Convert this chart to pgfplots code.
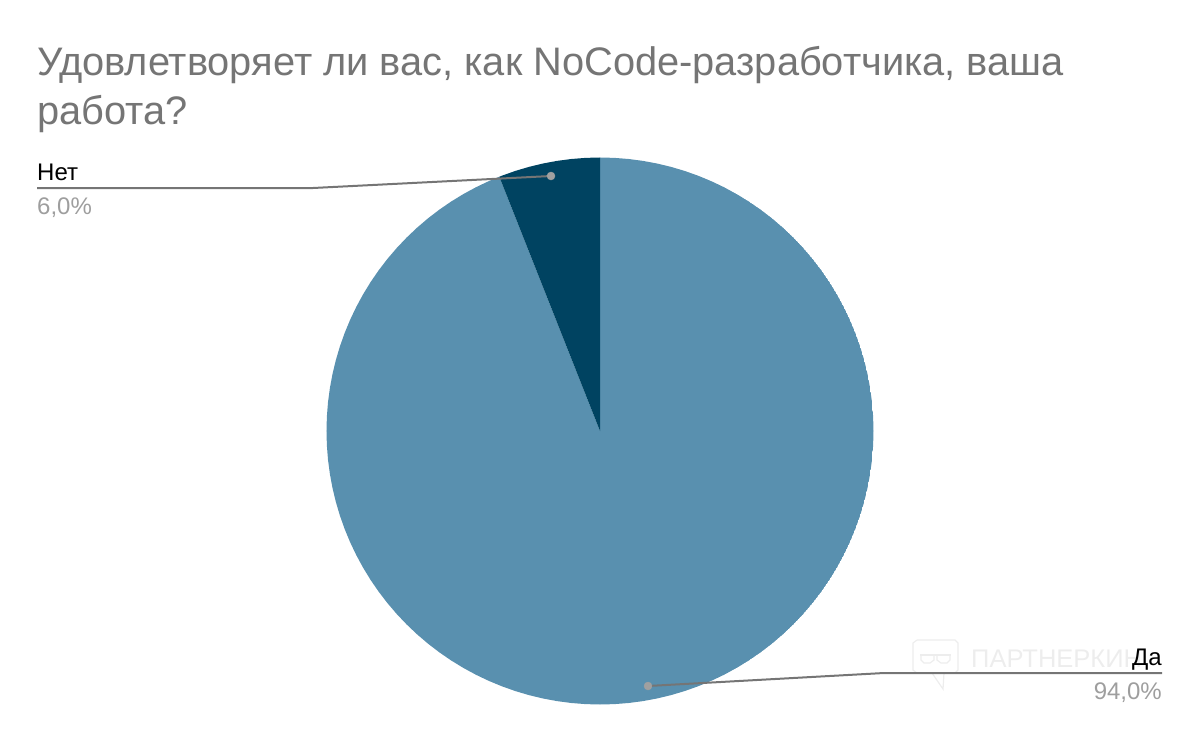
\documentclass[border=0pt]{standalone}
\usepackage{fontspec}
\setmainfont{Liberation Sans}
\usepackage{pgfplots}
\pgfplotsset{compat=1.18}
\usepgfplotslibrary{polar}
\definecolor{yes}{HTML}{5990AF}
\definecolor{no}{HTML}{004361}
\definecolor{lead}{HTML}{757575}
\definecolor{dotc}{HTML}{A0A0A0}
\definecolor{pct}{HTML}{9E9E9E}
\definecolor{wm}{HTML}{EDEDED}
\begin{document}
\begin{tikzpicture}[x=1pt,y=1pt]
% Да 94%, Нет 6%; clockwise from the top, angles in degrees
\begin{polaraxis}[
  at={(600pt,311pt)}, anchor=center,
  scale only axis, width=547pt, height=547pt,
  xmin=0, xmax=360, ymin=0, ymax=273.5,
  hide axis
]
\addplot[draw=none, fill=yes] coordinates {
(0,0) (111.6,273.5) (114,273.5) (117,273.5) (120,273.5) (123,273.5) (126,273.5) (129,273.5) (132,273.5) (135,273.5)
(138,273.5) (141,273.5) (144,273.5) (147,273.5) (150,273.5) (153,273.5) (156,273.5) (159,273.5) (162,273.5) (165,273.5)
(168,273.5) (171,273.5) (174,273.5) (177,273.5) (180,273.5) (183,273.5) (186,273.5) (189,273.5) (192,273.5) (195,273.5)
(198,273.5) (201,273.5) (204,273.5) (207,273.5) (210,273.5) (213,273.5) (216,273.5) (219,273.5) (222,273.5) (225,273.5)
(228,273.5) (231,273.5) (234,273.5) (237,273.5) (240,273.5) (243,273.5) (246,273.5) (249,273.5) (252,273.5) (255,273.5)
(258,273.5) (261,273.5) (264,273.5) (267,273.5) (270,273.5) (273,273.5) (276,273.5) (279,273.5) (282,273.5) (285,273.5)
(288,273.5) (291,273.5) (294,273.5) (297,273.5) (300,273.5) (303,273.5) (306,273.5) (309,273.5) (312,273.5) (315,273.5)
(318,273.5) (321,273.5) (324,273.5) (327,273.5) (330,273.5) (333,273.5) (336,273.5) (339,273.5) (342,273.5) (345,273.5)
(348,273.5) (351,273.5) (354,273.5) (357,273.5) (360,273.5) (363,273.5) (366,273.5) (369,273.5) (372,273.5) (375,273.5)
(378,273.5) (381,273.5) (384,273.5) (387,273.5) (390,273.5) (393,273.5) (396,273.5) (399,273.5) (402,273.5) (405,273.5)
(408,273.5) (411,273.5) (414,273.5) (417,273.5) (420,273.5) (423,273.5) (426,273.5) (429,273.5) (432,273.5) (435,273.5)
(438,273.5) (441,273.5) (444,273.5) (447,273.5) (450,273.5) (0,0)
} \closedcycle;
\addplot[draw=none, fill=no] coordinates {
(0,0) (90,273.5) (93,273.5) (96,273.5) (99,273.5) (102,273.5) (105,273.5) (108,273.5) (111,273.5) (111.6,273.5) (0,0)
} \closedcycle;
\end{polaraxis}
% overlay in reference pixels
\begin{axis}[
  at={(0pt,0pt)}, anchor=south west,
  scale only axis, width=1200pt, height=742pt,
  xmin=0, xmax=1200, ymin=0, ymax=742, y dir=reverse,
  hide axis, clip=false
]
\addplot[draw=none, forget plot] coordinates {(0,0) (1200,742)};
% watermark
\addplot[wm, line width=1.2pt] coordinates {(917,640) (955,640) (958,643) (958,670) (955,673) (944,673) (943,689) (932,673) (917,673) (913,670) (913,643) (917,640)};
\addplot[wm, line width=1.2pt] coordinates {(920,655) (951,655)};
\addplot[wm, line width=1.2pt] coordinates {(921,655) (921,660) (924,663) (930,663) (934,660) (934,655)};
\addplot[wm, line width=1.2pt] coordinates {(937,655) (937,660) (941,663) (947,663) (950,660) (950,655)};
\node[anchor=base west, inner sep=0pt, text=wm, font=\fontsize{25.5}{26}\selectfont] at (axis cs:971,667) {ПАРТНЕРКИН};
% title
\node[anchor=base west, inner sep=0pt, text=lead, font=\fontsize{39.8}{40}\selectfont] at (axis cs:37,75) {Удовлетворяет ли вас, как NoCode-разработчика, ваша};
\node[anchor=base west, inner sep=0pt, text=lead, font=\fontsize{39.8}{40}\selectfont] at (axis cs:37,124) {работа?};
% leaders
\addplot[lead, line width=2pt] coordinates {(37,188) (313,188) (551,176)};
\addplot[lead, line width=2pt] coordinates {(1162,673) (884,673) (648,686)};
\addplot[only marks, mark=*, mark size=4pt, dotc, mark options={draw=none, fill=dotc}] coordinates {(551,176) (648,686)};
% labels
\node[anchor=base west, inner sep=0pt, text=black, font=\fontsize{24}{24}\selectfont] at (axis cs:37,180) {Нет};
\node[anchor=base west, inner sep=0pt, text=pct, font=\fontsize{24}{24}\selectfont] at (axis cs:37,214) {6,0\%};
\node[anchor=base east, inner sep=0pt, text=black, font=\fontsize{24}{24}\selectfont] at (axis cs:1162,665) {Да};
\node[anchor=base east, inner sep=0pt, text=pct, font=\fontsize{24}{24}\selectfont] at (axis cs:1162,699) {94,0\%};
\end{axis}
\end{tikzpicture}
\end{document}
